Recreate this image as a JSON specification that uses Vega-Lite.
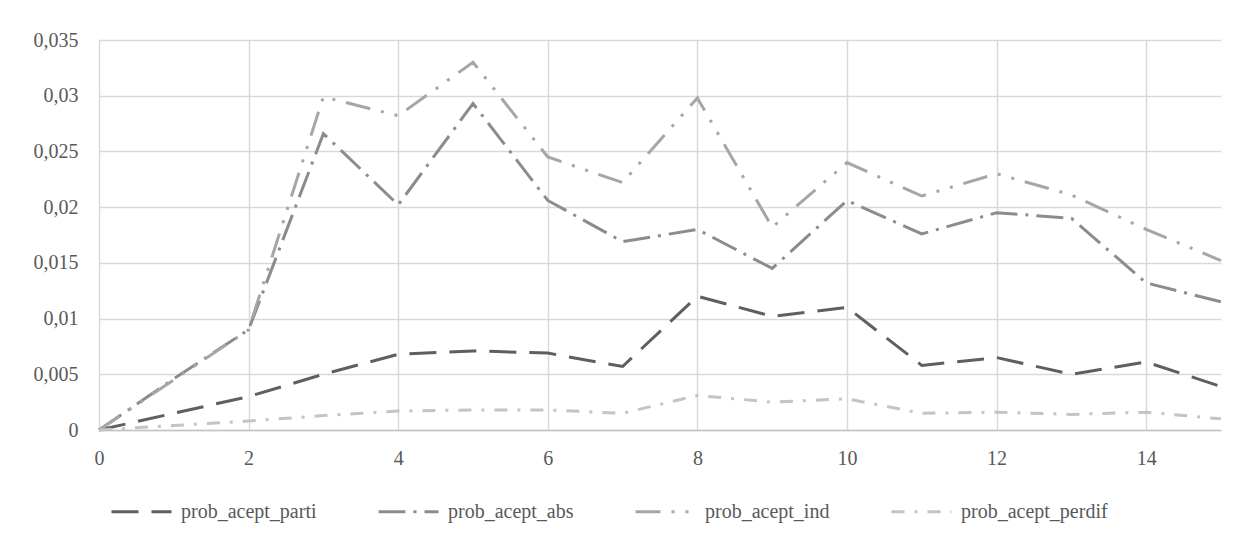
{
  "$schema": "https://vega.github.io/schema/vega-lite/v6.json",
  "width": 1122,
  "height": 390,
  "autosize": "none",
  "padding": {"left": 99, "top": 40, "right": 30, "bottom": 109},
  "background": "white",
  "config": {
    "locale": {"number": {"decimal": ",", "thousands": ".", "grouping": [3], "currency": ["", " €"]}},
    "view": {"stroke": null},
    "font": "Liberation Serif"
  },
  "datasets": {
    "d": [
      {"x": 0, "serie": "prob_acept_parti", "valor": 0},
      {"x": 1, "serie": "prob_acept_parti", "valor": 0.0015},
      {"x": 2, "serie": "prob_acept_parti", "valor": 0.003},
      {"x": 3, "serie": "prob_acept_parti", "valor": 0.005},
      {"x": 4, "serie": "prob_acept_parti", "valor": 0.0068},
      {"x": 5, "serie": "prob_acept_parti", "valor": 0.0071},
      {"x": 6, "serie": "prob_acept_parti", "valor": 0.0069},
      {"x": 7, "serie": "prob_acept_parti", "valor": 0.0057},
      {"x": 8, "serie": "prob_acept_parti", "valor": 0.012},
      {"x": 9, "serie": "prob_acept_parti", "valor": 0.0102},
      {"x": 10, "serie": "prob_acept_parti", "valor": 0.011},
      {"x": 11, "serie": "prob_acept_parti", "valor": 0.0058},
      {"x": 12, "serie": "prob_acept_parti", "valor": 0.0065},
      {"x": 13, "serie": "prob_acept_parti", "valor": 0.005},
      {"x": 14, "serie": "prob_acept_parti", "valor": 0.0061},
      {"x": 15, "serie": "prob_acept_parti", "valor": 0.0039},
      {"x": 0, "serie": "prob_acept_abs", "valor": 0},
      {"x": 1, "serie": "prob_acept_abs", "valor": 0.0046},
      {"x": 2, "serie": "prob_acept_abs", "valor": 0.009},
      {"x": 3, "serie": "prob_acept_abs", "valor": 0.0266},
      {"x": 4, "serie": "prob_acept_abs", "valor": 0.0202},
      {"x": 5, "serie": "prob_acept_abs", "valor": 0.0293},
      {"x": 6, "serie": "prob_acept_abs", "valor": 0.0206},
      {"x": 7, "serie": "prob_acept_abs", "valor": 0.0169},
      {"x": 8, "serie": "prob_acept_abs", "valor": 0.018},
      {"x": 9, "serie": "prob_acept_abs", "valor": 0.0145},
      {"x": 10, "serie": "prob_acept_abs", "valor": 0.0206},
      {"x": 11, "serie": "prob_acept_abs", "valor": 0.0176},
      {"x": 12, "serie": "prob_acept_abs", "valor": 0.0195},
      {"x": 13, "serie": "prob_acept_abs", "valor": 0.019},
      {"x": 14, "serie": "prob_acept_abs", "valor": 0.0132},
      {"x": 15, "serie": "prob_acept_abs", "valor": 0.0115},
      {"x": 0, "serie": "prob_acept_ind", "valor": 0},
      {"x": 1, "serie": "prob_acept_ind", "valor": 0.0045},
      {"x": 2, "serie": "prob_acept_ind", "valor": 0.009},
      {"x": 3, "serie": "prob_acept_ind", "valor": 0.0299},
      {"x": 4, "serie": "prob_acept_ind", "valor": 0.0282},
      {"x": 5, "serie": "prob_acept_ind", "valor": 0.033},
      {"x": 6, "serie": "prob_acept_ind", "valor": 0.0245},
      {"x": 7, "serie": "prob_acept_ind", "valor": 0.0222},
      {"x": 8, "serie": "prob_acept_ind", "valor": 0.0298},
      {"x": 9, "serie": "prob_acept_ind", "valor": 0.0182},
      {"x": 10, "serie": "prob_acept_ind", "valor": 0.024},
      {"x": 11, "serie": "prob_acept_ind", "valor": 0.021},
      {"x": 12, "serie": "prob_acept_ind", "valor": 0.023},
      {"x": 13, "serie": "prob_acept_ind", "valor": 0.0211},
      {"x": 14, "serie": "prob_acept_ind", "valor": 0.018},
      {"x": 15, "serie": "prob_acept_ind", "valor": 0.0152},
      {"x": 0, "serie": "prob_acept_perdif", "valor": 0},
      {"x": 1, "serie": "prob_acept_perdif", "valor": 0.0004},
      {"x": 2, "serie": "prob_acept_perdif", "valor": 0.0008},
      {"x": 3, "serie": "prob_acept_perdif", "valor": 0.0013},
      {"x": 4, "serie": "prob_acept_perdif", "valor": 0.0017},
      {"x": 5, "serie": "prob_acept_perdif", "valor": 0.0018},
      {"x": 6, "serie": "prob_acept_perdif", "valor": 0.0018},
      {"x": 7, "serie": "prob_acept_perdif", "valor": 0.0015},
      {"x": 8, "serie": "prob_acept_perdif", "valor": 0.0031},
      {"x": 9, "serie": "prob_acept_perdif", "valor": 0.0025},
      {"x": 10, "serie": "prob_acept_perdif", "valor": 0.0028},
      {"x": 11, "serie": "prob_acept_perdif", "valor": 0.0015},
      {"x": 12, "serie": "prob_acept_perdif", "valor": 0.0016},
      {"x": 13, "serie": "prob_acept_perdif", "valor": 0.0014},
      {"x": 14, "serie": "prob_acept_perdif", "valor": 0.0016},
      {"x": 15, "serie": "prob_acept_perdif", "valor": 0.001}
    ]
  },
  "data": {"name": "d"},
  "mark": {"type": "line", "strokeWidth": 3, "strokeCap": "butt", "strokeJoin": "miter"},
  "encoding": {
    "x": {
      "field": "x", "type": "quantitative",
      "scale": {"domain": [0, 15], "nice": false, "zero": false},
      "axis": {
        "values": [0, 2, 4, 6, 8, 10, 12, 14], "title": null,
        "grid": true, "gridColor": "#d9d9d9", "gridWidth": 1.5,
        "ticks": false, "domainColor": "#c4c4c4", "domainWidth": 1.5,
        "labelFont": "Liberation Serif", "labelFontSize": 20, "labelColor": "#595959",
        "labelPadding": 18, "labelFlush": false
      }
    },
    "y": {
      "field": "valor", "type": "quantitative",
      "scale": {"domain": [0, 0.035], "nice": false},
      "axis": {
        "values": [0, 0.005, 0.01, 0.015, 0.02, 0.025, 0.03, 0.035], "format": ".3~f",
        "title": null, "grid": true, "gridColor": "#d9d9d9", "gridWidth": 1.5,
        "domain": false, "ticks": false,
        "labelFont": "Liberation Serif", "labelFontSize": 20, "labelColor": "#595959",
        "labelPadding": 21
      }
    },
    "color": {
      "field": "serie", "type": "nominal",
      "scale": {
        "domain": ["prob_acept_parti", "prob_acept_abs", "prob_acept_ind", "prob_acept_perdif"],
        "range": ["#5f5f5f", "#8c8c8c", "#a6a6a6", "#c4c4c4"]
      },
      "legend": {
        "title": null, "orient": "none", "legendX": 11, "legendY": 440,
        "direction": "horizontal", "columns": 4, "symbolType": "stroke",
        "symbolSize": 3600, "symbolStrokeWidth": 3,
        "labelFont": "Liberation Serif", "labelFontSize": 20, "labelColor": "#595959",
        "labelOffset": 8, "columnPadding": 55, "labelLimit": 300
      }
    },
    "strokeDash": {
      "field": "serie", "type": "nominal",
      "scale": {
        "domain": ["prob_acept_parti", "prob_acept_abs", "prob_acept_ind", "prob_acept_perdif"],
        "range": [[27, 13], [27, 8, 3, 8], [25, 11, 3, 11, 3, 11], [13, 10, 3, 10]]
      },
      "legend": {
        "title": null, "orient": "none", "legendX": 11, "legendY": 440,
        "direction": "horizontal", "columns": 4, "symbolType": "stroke",
        "symbolSize": 3600, "symbolStrokeWidth": 3,
        "labelFont": "Liberation Serif", "labelFontSize": 20, "labelColor": "#595959",
        "labelOffset": 8, "columnPadding": 55, "labelLimit": 300
      }
    }
  }
}
